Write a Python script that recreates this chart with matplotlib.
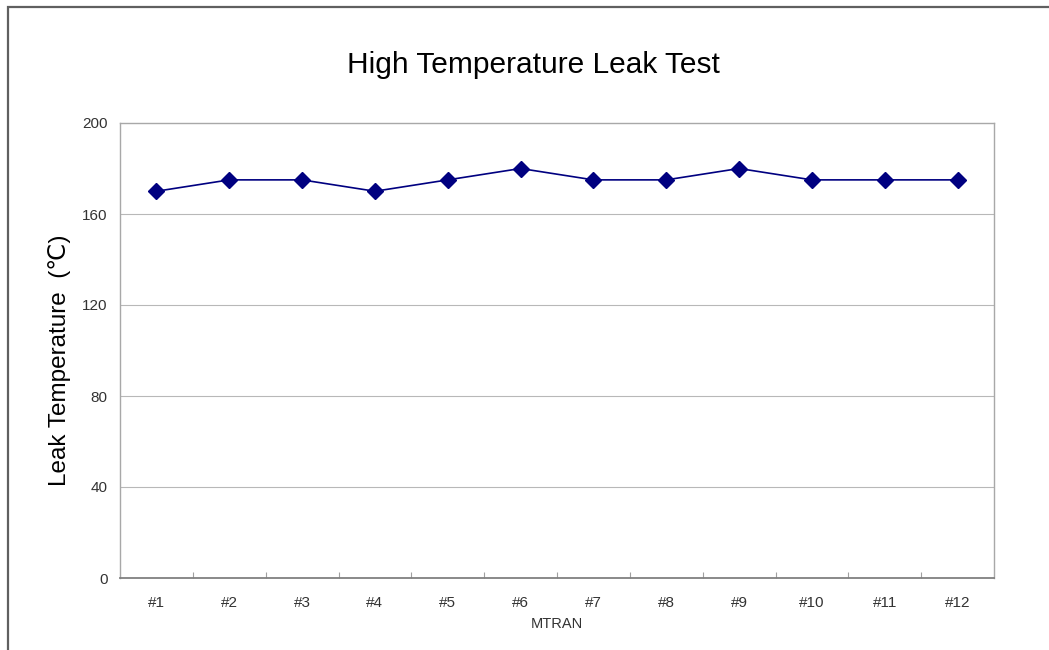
"""High temperature leak test chart."""

import numpy as np
import matplotlib
matplotlib.use("Agg")
import matplotlib.pyplot as plt
from matplotlib.patches import Rectangle

samples = ['#1', '#2', '#3', '#4', '#5', '#6',
           '#7', '#8', '#9', '#10', '#11', '#12']
leak_temp = [170, 175, 175, 170, 175, 180, 175, 175, 180, 175, 175, 175]
y_ticks = [0, 40, 80, 120, 160, 200]

plt.rcParams['font.family'] = ['Liberation Sans', 'DejaVu Sans']

fig = plt.figure(figsize=(10.49, 6.5), dpi=100)
ax = fig.add_axes([120 / 1049, 1 - 578 / 650, 874 / 1049, 455 / 650])

# outer frame (top/left only visible, rest is cropped off)
fig.patches.append(Rectangle((8 / 1049, -0.1), 1.2, 1 - 7 / 650 + 0.1,
                             transform=fig.transFigure, fill=False,
                             edgecolor='#606060', linewidth=1.6))

x = np.arange(len(samples))
ax.plot(x, leak_temp, color='#000080', linewidth=1.2, marker='D',
        markersize=8, zorder=3)

ax.set_xlim(-0.5, len(samples) - 0.5)
ax.set_ylim(0, 200)
ax.set_yticks(y_ticks)
ax.set_yticklabels([str(v) for v in y_ticks])
for v in y_ticks[1:-1]:
    ax.axhline(v, color='#b8b8b8', linewidth=0.8, zorder=1)

ax.set_xticks(x)
ax.set_xticklabels(samples)
ax.set_xticks(x[:-1] + 0.5, minor=True)
ax.tick_params(axis='x', which='major', length=0, pad=13,
               labelsize=11, labelcolor='#333333')
ax.tick_params(axis='x', which='minor', direction='in', length=4,
               color='#a0a0a0', width=0.8)
ax.tick_params(axis='y', length=0, pad=9, labelsize=11,
               labelcolor='#333333')

for side in ['top', 'right', 'left']:
    ax.spines[side].set_color('#a8a8a8')
    ax.spines[side].set_linewidth(1.0)
ax.spines['bottom'].set_color('#808080')
ax.spines['bottom'].set_linewidth(1.3)

ax.set_xlabel('MTRAN', fontsize=10.5, color='#333333', labelpad=5)
ax.set_ylabel('Leak Temperature  (\u2103)', fontsize=17.5)
ax.yaxis.set_label_coords(-49 / 874, (578 - 360) / 455)
fig.text(533 / 1049, 1 - 65 / 650, 'High Temperature Leak Test',
         fontsize=21.5, ha='center', va='center')

fig.savefig('out.png', dpi=100)
